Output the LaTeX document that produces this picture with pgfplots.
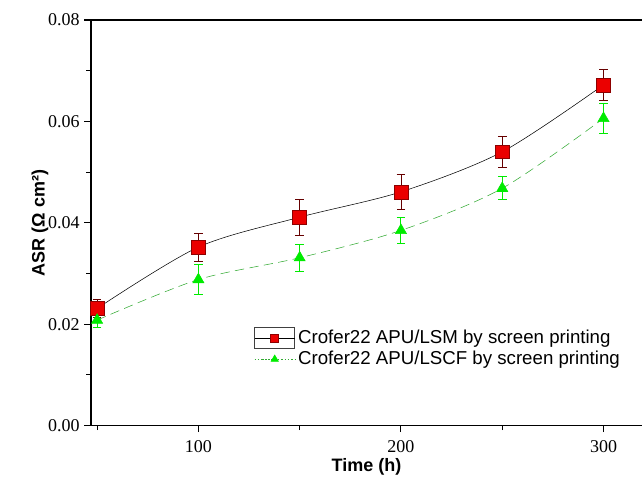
\documentclass[border=0pt]{standalone}
\usepackage{fontspec}
\setmainfont{Liberation Serif}
\setsansfont{Liberation Sans}
\usepackage{pgfplots}
\pgfplotsset{compat=1.18}

\definecolor{sqred}{RGB}{235,0,0}
\definecolor{triGreen}{RGB}{0,235,0}
\definecolor{lineGreen}{RGB}{50,170,50}

\begin{document}
\begin{tikzpicture}
\begin{axis}[
  scale only axis,
  width=413pt, height=304pt,
  xmin=47, xmax=319, ymin=0, ymax=0.08,
  axis y line*=left,
  xtick={100,200,300}, minor xtick={50,150,250},
  ytick={0,0.02,0.04,0.06,0.08}, minor ytick={0.01,0.03,0.05,0.07},
  xtick pos=left,
  tick align=outside,
  major tick length=5pt, minor tick length=3.5pt,
  tick style={black, line width=0.8pt},
  axis line style={line width=1.4pt},
  /pgf/number format/assume math mode=true,
  ticklabel style={font=\fontsize{13.5}{15}\selectfont},
  xticklabel style={yshift=-3pt},
  yticklabel style={/pgf/number format/fixed, /pgf/number format/fixed zerofill, /pgf/number format/precision=2},
  scaled y ticks=false,
  xlabel={Time (h)}, ylabel={ASR (Ω cm²)},
  label style={font=\sffamily\bfseries\fontsize{13.5}{15}\selectfont},
  xlabel style={yshift=3pt},
  ylabel style={yshift=-7pt},
  legend style={at={(rel axis cs:0.288,0.25)}, anchor=north west, draw=none, fill=none,
    font=\sffamily\fontsize{14}{16}\selectfont, row sep=0pt},
  legend cell align=left,
  legend image code/.code={\draw[mark repeat=2, mark phase=2] plot coordinates {(0cm,0cm) (0.53cm,0cm) (1.06cm,0cm)};},
]
\coordinate (bl) at (rel axis cs:0,0);
\coordinate (tr) at (rel axis cs:1,1);

\addplot[black, thin, smooth, mark=square*, mark size=5.2pt,
  mark options={solid, fill=sqred, draw=sqred!60!black, line width=0.4pt},
  legend image code/.code={
    \draw[solid, black!75, line width=0.9pt] (0cm,-0.27cm) rectangle (1.06cm,0.27cm);
    \draw[mark repeat=2, mark phase=2, mark size=3pt] plot coordinates {(0cm,0cm) (0.53cm,0cm) (1.06cm,0cm)};},
  error bars/.cd, y dir=both, y explicit,
  error bar style={draw=red!40!black, line width=0.6pt},
  error mark options={rotate=90, mark size=3.2pt, draw=red!40!black, line width=0.6pt}]
  coordinates {
  (50,0.0231) +- (0,0.0018)
  (100,0.0352) +- (0,0.0028)
  (150,0.0411) +- (0,0.0035)
  (200,0.0461) +- (0,0.0034)
  (250,0.0540) +- (0,0.0030)
  (300,0.0672) +- (0,0.0030)
};
\addlegendentry{Crofer22 APU/LSM by screen printing}

\addplot[lineGreen, thin, smooth, dash pattern=on 7pt off 4pt, mark=triangle*, mark size=4.8pt,
  mark options={solid, fill=triGreen, draw=triGreen},
  legend image post style={mark size=3.2pt, dash pattern=on 1pt off 1.5pt},
  error bars/.cd, y dir=both, y explicit,
  error bar style={solid, draw=triGreen, line width=0.7pt},
  error mark options={solid, rotate=90, mark size=3.2pt, draw=triGreen, line width=0.7pt}]
  coordinates {
  (50,0.0208) +- (0,0.0015)
  (100,0.0288) +- (0,0.0029)
  (150,0.0331) +- (0,0.0027)
  (200,0.0385) +- (0,0.0025)
  (250,0.0468) +- (0,0.0023)
  (300,0.0606) +- (0,0.0029)
};
\addlegendentry{Crofer22 APU/LSCF by screen printing}
\end{axis}
\path (bl) ++(-68.25pt,-40.5pt) coordinate (A);
\path (tr) ++(0pt,15pt) coordinate (B);
\pgfresetboundingbox
\useasboundingbox (A) rectangle (B);
\end{tikzpicture}
\end{document}
